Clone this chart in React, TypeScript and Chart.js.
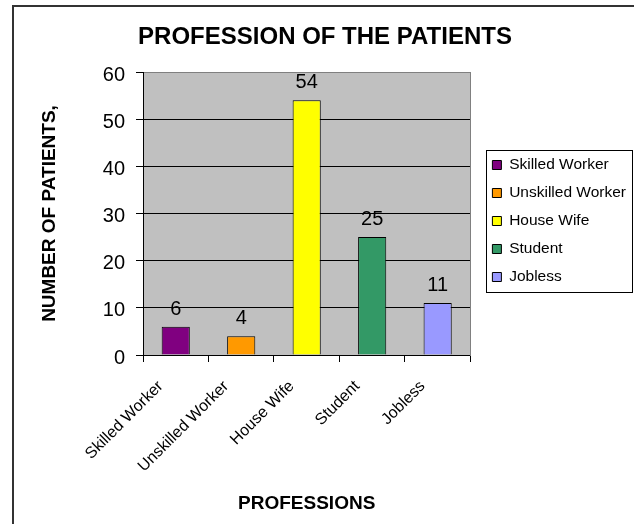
import React, { useEffect, useRef } from 'react';
import { Chart, registerables } from 'chart.js';

Chart.register(...registerables);

const categories = ['Skilled Worker', 'Unskilled Worker', 'House Wife', 'Student', 'Jobless'];
const patientCounts = [6, 4, 54, 25, 11];
const barColors = ['#800080', '#FF9900', '#FFFF00', '#339966', '#9999FF'];
const yTickValues = [0, 10, 20, 30, 40, 50, 60];
const chartTitle = 'PROFESSION OF THE PATIENTS';
const yTitle = 'NUMBER OF PATIENTS,';
const xTitle = 'PROFESSIONS';

const FONT = "Arial, 'Liberation Sans', sans-serif";

const framePlugin = {
  id: 'frame',
  beforeDraw(chart: any) {
    const { ctx, chartArea: a } = chart;
    ctx.save();
    ctx.fillStyle = '#C0C0C0';
    ctx.fillRect(a.left, a.top, a.right - a.left, a.bottom - a.top);
    ctx.strokeStyle = '#333333';
    ctx.lineWidth = 2;
    ctx.beginPath();
    ctx.moveTo(13, chart.height + 4);
    ctx.lineTo(13, 6);
    ctx.lineTo(chart.width + 4, 6);
    ctx.stroke();
    ctx.restore();
  },
};

const legendBoxPlugin = {
  id: 'legendBox',
  afterDraw(chart: any) {
    const lg = chart.legend;
    const hb = lg && lg.legendHitBoxes;
    if (!hb || !hb.length) return;
    const { ctx } = chart;
    const left = Math.min(...hb.map((h: any) => h.left)) - 6;
    const right = Math.max(...hb.map((h: any) => h.left + h.width)) + 6;
    const top = hb[0].top - 7;
    const last = hb[hb.length - 1];
    const bottom = last.top + last.height + 7;
    ctx.save();
    ctx.strokeStyle = '#000';
    ctx.lineWidth = 1;
    ctx.strokeRect(Math.round(left) + 0.5, Math.round(top) + 0.5, Math.round(right - left), Math.round(bottom - top));
    ctx.restore();
  },
};

const valueLabelPlugin = {
  id: 'valueLabels',
  afterDatasetsDraw(chart: any) {
    const { ctx } = chart;
    const meta = chart.getDatasetMeta(0);
    ctx.save();
    ctx.fillStyle = '#000';
    ctx.font = `20px ${FONT}`;
    ctx.textAlign = 'center';
    ctx.textBaseline = 'alphabetic';
    meta.data.forEach((el: any, i: number) => {
      ctx.fillText(String(patientCounts[i]), el.x, el.y - 12);
    });
    ctx.restore();
  },
};

export default function App() {
  const ref = useRef<HTMLCanvasElement>(null);

  useEffect(() => {
    document.body.style.margin = '0';
    Chart.defaults.font.family = FONT;
    Chart.defaults.color = '#000';
    const chart = new Chart(ref.current as HTMLCanvasElement, {
      type: 'bar',
      data: {
        labels: categories,
        datasets: [
          {
            label: 'Patients',
            data: patientCounts,
            backgroundColor: barColors,
            borderColor: '#000',
            borderWidth: 1,
            barPercentage: 0.43,
            categoryPercentage: 1,
          },
        ],
      },
      options: {
        responsive: false,
        animation: false,
        layout: { padding: { left: 14, right: -2, top: 5, bottom: 8 } },
        plugins: {
          title: {
            display: true,
            text: chartTitle,
            color: '#000',
            font: { size: 24, weight: 'bold', lineHeight: 1 },
            padding: { top: 20, bottom: 23 },
          },
          legend: {
            position: 'right',
            fullSize: false,
            maxWidth: 220,
            title: { display: true, text: ' ', font: { size: 15, lineHeight: 1 }, padding: 0 },
            labels: {
              boxWidth: 9,
              boxHeight: 9,
              padding: 12.5,
              color: '#000',
              font: { size: 15.5 },
              generateLabels: () =>
                categories.map((c, i) => ({
                  text: c,
                  fillStyle: barColors[i],
                  strokeStyle: '#000',
                  lineWidth: 1,
                  hidden: false,
                  index: i,
                  datasetIndex: 0,
                })),
            },
          },
          tooltip: { enabled: false },
        },
        scales: {
          x: {
            grid: { display: true, drawOnChartArea: false, offset: true, tickLength: 7, color: '#000' },
            border: { color: '#000', width: 1 },
            ticks: {
              color: '#000',
              font: { size: 16 },
              minRotation: 45,
              maxRotation: 45,
              autoSkip: false,
              padding: 15,
              labelOffset: -15,
            },
            title: {
              display: true,
              text: xTitle,
              color: '#000',
              font: { size: 19, weight: 'bold', lineHeight: 1 },
              padding: { top: 0, bottom: 2.5 },
            },
            afterFit: (s: any) => {
              s.height = 161;
            },
          },
          y: {
            min: 0,
            max: 60,
            afterBuildTicks: (s: any) => {
              s.ticks = yTickValues.map((v) => ({ value: v }));
            },
            ticks: { color: '#000', font: { size: 20 }, padding: 11, labelOffset: 3 },
            grid: {
              color: (c: any) => (c.tick && c.tick.value === 60 ? '#808080' : '#000'),
              tickColor: '#000',
              tickLength: 7,
            },
            border: { color: '#000' },
            title: {
              display: true,
              text: yTitle,
              color: '#000',
              font: { size: 19, weight: 'bold', lineHeight: 1 },
              padding: { top: 26.5, bottom: 0 },
            },
            afterFit: (s: any) => {
              s.width = 129;
            },
          },
          y2: {
            position: 'right',
            display: true,
            grid: { drawOnChartArea: false, drawTicks: false },
            ticks: { display: false },
            border: { color: '#808080' },
            afterFit: (s: any) => {
              s.width = 9.5;
            },
          },
        },
      } as any,
      plugins: [framePlugin, legendBoxPlugin, valueLabelPlugin],
    });
    return () => chart.destroy();
  }, []);

  return (
    <div style={{ position: 'absolute', left: 0, top: 0, width: 634, height: 524 }}>
      <canvas ref={ref} width={634} height={524} />
    </div>
  );
}
